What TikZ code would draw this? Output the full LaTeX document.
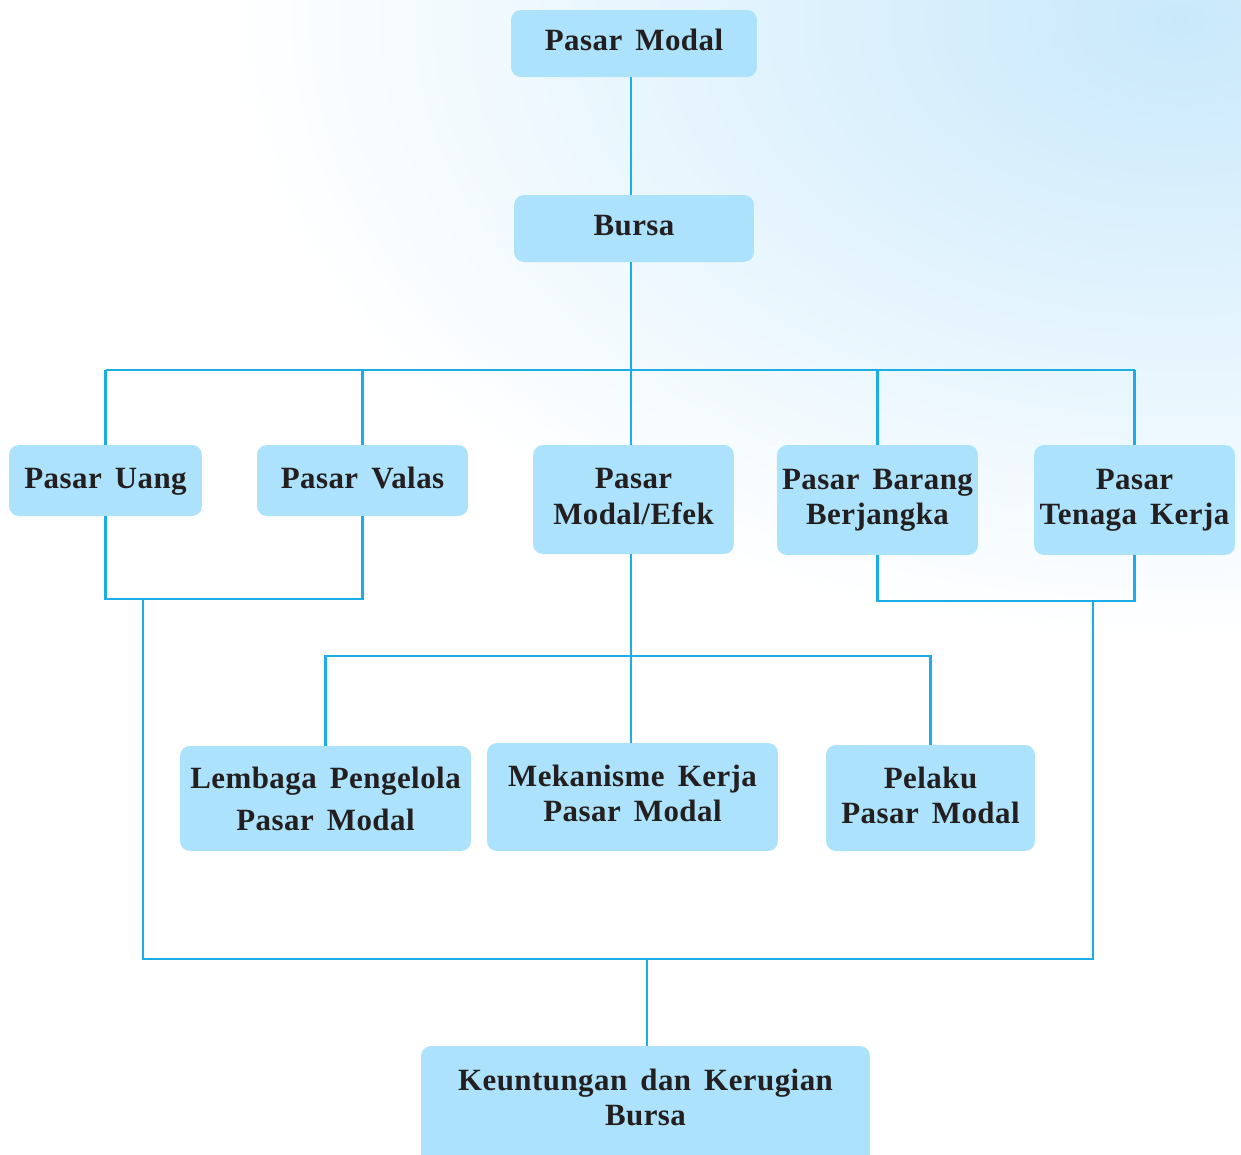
\documentclass[tikz,border=0pt]{standalone}
\usepackage{fontspec}
\setmainfont{Liberation Serif}[LetterSpace=1.5, WordSpace=1.6]
\definecolor{boxfill}{HTML}{ACE2FB}
\definecolor{wirecol}{HTML}{1AADE8}
\definecolor{ink}{HTML}{231F20}
\definecolor{haze}{HTML}{C9E9FB}
\newcommand\cardfont{\fontsize{17.6}{20}\selectfont\bfseries}
% card text, shifted up by #1 while keeping its box size
\newcommand\lift[2]{\raisebox{#1}[\height][\depth]{\setlength\tabcolsep{0pt}\begin{tabular}{c}#2\end{tabular}}}
\begin{document}
\begin{tikzpicture}[x=0.02cm,y=-0.02cm,
  card/.style={fill=boxfill, rounded corners=5.7pt, inner sep=0pt,
    align=center, text=ink, font=\cardfont},
  link/.style={draw=wirecol, line width=1.4pt}]
\useasboundingbox (0,0) rectangle (1241,1154);
\path[clip] (0,0) rectangle (1241,1154);

% soft background wash
\fill[white] (0,0) rectangle (1241,1154);
\shade[inner color=haze, outer color=white] (1180,20) ellipse [x radius=950, y radius=620];

% boxes
\node[card, minimum width=4.92cm, minimum height=1.34cm] (pm) at (634,43.5) {\lift{0pt}{Pasar Modal}};
\node[card, minimum width=4.80cm, minimum height=1.34cm] (bursa) at (634,228.5) {\lift{0pt}{Bursa}};

\node[card, minimum width=3.86cm, minimum height=1.42cm] (uang) at (105.5,480.5) {\lift{-0.6pt}{Pasar Uang}};
\node[card, minimum width=4.22cm, minimum height=1.42cm] (valas) at (362.5,480.5) {\lift{-0.6pt}{Pasar Valas}};
\node[card, minimum width=4.02cm, minimum height=2.18cm] (efek) at (633.5,499.5) {\lift{0pt}{Pasar\\Modal/Efek}};
\node[card, minimum width=4.02cm, minimum height=2.20cm] (barang) at (877.5,500) {\lift{0pt}{Pasar Barang\\Berjangka}};
\node[card, minimum width=4.02cm, minimum height=2.20cm] (tenaga) at (1134.5,500) {\lift{0pt}{Pasar\\Tenaga Kerja}};

\node[card, minimum width=5.82cm, minimum height=2.10cm] (lembaga) at (325.5,798.5) {\lift{-2.3pt}{Lembaga Pengelola\\[4pt]Pasar Modal}};
\node[card, minimum width=5.82cm, minimum height=2.16cm] (meka) at (632.5,797) {\lift{0pt}{Mekanisme Kerja\\Pasar Modal}};
\node[card, minimum width=4.18cm, minimum height=2.12cm] (pelaku) at (930.5,798) {\lift{-0.6pt}{Pelaku\\Pasar Modal}};

\node[card, minimum width=8.98cm, minimum height=2.38cm] (keun) at (645.5,1105.5)
  {\lift{2.5pt}{Keuntungan dan Kerugian\\Bursa}};

% connectors
\coordinate (stem) at (631,0);
\coordinate (bus) at (631,370);
\coordinate (lj) at (143,599);
\coordinate (rj) at (1093,601);
\coordinate (bot) at (647,959);
\coordinate (sub) at (631,656);

\draw[link] (stem |- pm.south) -- (stem |- bursa.north);
\draw[link] (stem |- bursa.south) -- (bus);
\draw[link] (uang.north |- bus) -- (tenaga.north |- bus);
\foreach \n in {uang,valas,barang,tenaga}
  \draw[link] (\n.north |- bus) -- (\n.north);
\draw[link] (bus) -- (stem |- efek.north);

\draw[link] (uang.south) -- (uang.south |- lj) -- (valas.south |- lj) -- (valas.south);
\draw[link] (barang.south) -- (barang.south |- rj) -- (tenaga.south |- rj) -- (tenaga.south);
\draw[link] (lj) -- (lj |- bot) -- (rj |- bot) -- (rj);
\draw[link] (bot) -- (bot |- keun.north);

\draw[link] (stem |- efek.south) -- (stem |- meka.north);
\draw[link] (lembaga.north) -- (lembaga.north |- sub) -- (pelaku.north |- sub) -- (pelaku.north);
\end{tikzpicture}
\end{document}
